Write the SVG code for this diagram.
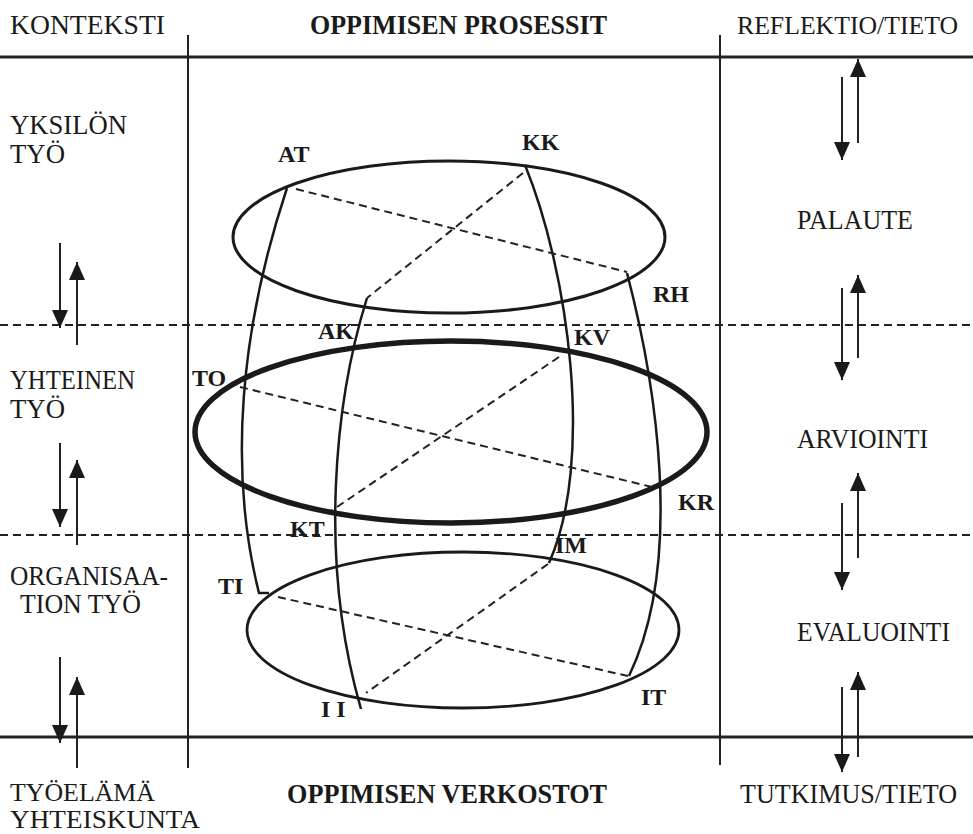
<svg xmlns="http://www.w3.org/2000/svg" width="973" height="834" viewBox="0 0 973 834">
<defs>
<marker id="ah" viewBox="0 0 18 16" refX="18" refY="8" markerWidth="18" markerHeight="16" markerUnits="userSpaceOnUse" orient="auto"><path d="M0,0 L18,8 L0,16 z" fill="#1a1a1a"/></marker>
<style>
.t{font-family:"Liberation Serif","Times New Roman",serif;font-size:28px;fill:#1a1a1a}
.s{font-family:"Liberation Serif","Times New Roman",serif;font-size:26px;fill:#1a1a1a}
.r{font-family:"Liberation Serif","Times New Roman",serif;font-size:25px;fill:#1a1a1a}
.b{font-family:"Liberation Serif","Times New Roman",serif;font-size:27px;font-weight:bold;fill:#1a1a1a}
.n{font-family:"Liberation Serif","Times New Roman",serif;font-size:24px;font-weight:bold;fill:#1a1a1a}
.frame{stroke:#222;fill:none}
.dash{stroke:#222;stroke-width:2;stroke-dasharray:8 5;fill:none}
.curve{stroke:#1a1a1a;stroke-width:2.5;fill:none}
.diag{stroke:#222;stroke-width:2;stroke-dasharray:8 5;fill:none}
.arr{stroke:#222;stroke-width:2;fill:none;marker-end:url(#ah)}
</style>
</defs>
<rect width="973" height="834" fill="#fff"/>
<g id="frame">
<line class="frame" x1="0" y1="57" x2="973" y2="57" stroke-width="3"/>
<line class="frame" x1="0" y1="737" x2="973" y2="737" stroke-width="3"/>
<line class="frame" x1="188" y1="35" x2="188" y2="768" stroke-width="2"/>
<line class="frame" x1="720" y1="35" x2="720" y2="765" stroke-width="2"/>
<line class="dash" x1="0" y1="325" x2="973" y2="325"/>
<line class="dash" x1="0" y1="535" x2="973" y2="535"/>
</g>
<g id="headers">
<text class="t" x="10" y="34" textLength="155" lengthAdjust="spacingAndGlyphs">KONTEKSTI</text>
<text class="b" x="310" y="34" textLength="297" lengthAdjust="spacingAndGlyphs">OPPIMISEN PROSESSIT</text>
<text class="r" x="737" y="34" textLength="221" lengthAdjust="spacingAndGlyphs">REFLEKTIO/TIETO</text>
<text class="s" x="10" y="801" textLength="145" lengthAdjust="spacingAndGlyphs">TYÖELÄMÄ</text>
<text class="s" x="10" y="828" textLength="190" lengthAdjust="spacingAndGlyphs">YHTEISKUNTA</text>
<text class="b" x="287" y="803" textLength="320" lengthAdjust="spacingAndGlyphs">OPPIMISEN VERKOSTOT</text>
<text class="t" x="740" y="803" textLength="217" lengthAdjust="spacingAndGlyphs">TUTKIMUS/TIETO</text>
</g>
<g id="context-labels">
<text class="t" x="10" y="134" textLength="117" lengthAdjust="spacingAndGlyphs">YKSILÖN</text>
<text class="t" x="10" y="163" textLength="55" lengthAdjust="spacingAndGlyphs">TYÖ</text>
<text class="t" x="10" y="389" textLength="125" lengthAdjust="spacingAndGlyphs">YHTEINEN</text>
<text class="t" x="10" y="418" textLength="55" lengthAdjust="spacingAndGlyphs">TYÖ</text>
<text class="t" x="10" y="585" textLength="158" lengthAdjust="spacingAndGlyphs">ORGANISAA-</text>
<text class="t" x="20" y="613" textLength="121" lengthAdjust="spacingAndGlyphs">TION TYÖ</text>
</g>
<g id="reflection-labels">
<text class="t" x="797" y="229" textLength="116" lengthAdjust="spacingAndGlyphs">PALAUTE</text>
<text class="t" x="797" y="448" textLength="131" lengthAdjust="spacingAndGlyphs">ARVIOINTI</text>
<text class="t" x="797" y="641" textLength="153" lengthAdjust="spacingAndGlyphs">EVALUOINTI</text>
</g>
<g id="ellipse-top"><ellipse cx="449" cy="237" rx="216" ry="76" fill="none" stroke="#1a1a1a" stroke-width="3"/></g>
<g id="ellipse-middle"><ellipse cx="451" cy="432" rx="256" ry="91" fill="none" stroke="#1a1a1a" stroke-width="5.5"/></g>
<g id="ellipse-bottom"><ellipse cx="463" cy="630" rx="216" ry="78" fill="none" stroke="#1a1a1a" stroke-width="2.8"/></g>
<g id="connectors">
<path class="curve" d="M287,188 C240,330 228,470 259,593 L269,593"/>
<path class="curve" d="M367,298 C335,400 318,560 361,709"/>
<path class="curve" d="M525,165 C568,270 595,460 549,563"/>
<path class="curve" d="M627,273 C655,380 685,560 629,676"/>
<path class="diag" d="M296,189 L627,272"/>
<path class="diag" d="M523,173 L367,298"/>
<path class="diag" d="M240,387 L652,487"/>
<path class="diag" d="M559,357 L331,511"/>
<path class="diag" d="M278,597 L628,676"/>
<path class="diag" d="M548,564 L366,693"/>
</g>
<g id="node-labels">
<text id="AT" class="n" x="278" y="162">AT</text>
<text id="KK" class="n" x="522" y="150">KK</text>
<text id="RH" class="n" x="653" y="302">RH</text>
<text id="AK" class="n" x="318" y="339">AK</text>
<text id="KV" class="n" x="574" y="345">KV</text>
<text id="TO" class="n" x="192" y="386">TO</text>
<text id="KR" class="n" x="678" y="510">KR</text>
<text id="KT" class="n" x="290" y="537">KT</text>
<text id="IM" class="n" x="555" y="553">IM</text>
<text id="TI" class="n" x="218" y="594">TI</text>
<text id="II" class="n" x="321" y="717">I I</text>
<text id="IT" class="n" x="641" y="705">IT</text>
</g>
<g id="arrows">
<line class="arr" x1="60" y1="243" x2="60" y2="328"/>
<line class="arr" x1="77" y1="345" x2="77" y2="262"/>
<line class="arr" x1="60" y1="443" x2="60" y2="527"/>
<line class="arr" x1="77" y1="545" x2="77" y2="460"/>
<line class="arr" x1="60" y1="657" x2="60" y2="743"/>
<line class="arr" x1="77" y1="768" x2="77" y2="677"/>
<line class="arr" x1="858" y1="143" x2="858" y2="59"/>
<line class="arr" x1="842" y1="77" x2="842" y2="160"/>
<line class="arr" x1="858" y1="358" x2="858" y2="275"/>
<line class="arr" x1="842" y1="288" x2="842" y2="380"/>
<line class="arr" x1="858" y1="558" x2="858" y2="473"/>
<line class="arr" x1="842" y1="503" x2="842" y2="590"/>
<line class="arr" x1="858" y1="757" x2="858" y2="672"/>
<line class="arr" x1="842" y1="687" x2="842" y2="772"/>
</g>
</svg>
